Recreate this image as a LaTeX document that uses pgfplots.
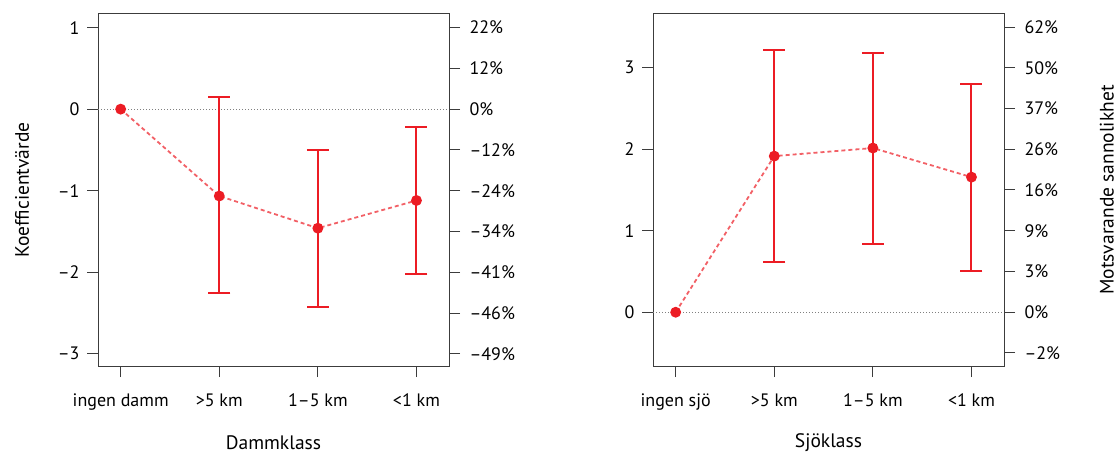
\documentclass[border=0pt]{standalone}
\usepackage{fontspec}
\setmainfont{PT Sans}
\usepackage{pgfplots}
\usepackage{pgfplotstable}
\pgfplotsset{compat=1.18}

\definecolor{ered}{RGB}{236,28,36}
\definecolor{frame}{RGB}{60,60,60}

% category, coefficient, error plus, error minus
\pgfplotstableread{
x y ep em
0 0 0 0
1 -1.065 1.209 1.195
2 -1.46 0.96 0.97
3 -1.12 0.90 0.90
}\dammtab
\pgfplotstableread{
x y ep em
1 -1.065 1.209 1.195
2 -1.46 0.96 0.97
3 -1.12 0.90 0.90
}\dammerr
\pgfplotstableread{
x y ep em
0 0 0 0
1 1.916 1.304 1.298
2 2.015 1.165 1.176
3 1.658 1.142 1.147
}\sjotab
\pgfplotstableread{
x y ep em
1 1.916 1.304 1.298
2 2.015 1.165 1.176
3 1.658 1.142 1.147
}\sjoerr

\pgfplotsset{
  panel/.style={
    scale only axis, width=351pt, height=352pt, anchor=south west,
    xmin=-0.23, xmax=3.33,
    axis line style={frame, line width=1pt},
    tick align=outside, major tick length=11pt,
    tick style={frame, line width=1pt},
    xtick={0,1,2,3}, xtick pos=bottom, ytick pos=left,
    tick label style={font=\fontsize{18pt}{21pt}\selectfont},
    label style={font=\fontsize{19.5pt}{23pt}\selectfont},
    xticklabel style={anchor=base, yshift=-29pt},
    yticklabel style={anchor=east, xshift=-4pt},
    xlabel style={at={(axis description cs:0.5,-0.219)}, anchor=center},
    ylabel style={at={(axis description cs:-0.2165,0.5)}, anchor=center},
    clip=false,
  },
  rpanel/.style={
    scale only axis, width=351pt, height=352pt, anchor=south west,
    xmin=-0.23, xmax=3.33,
    axis x line=none, axis y line*=right,
    axis line style={frame, line width=1pt},
    tick align=outside, major tick length=11pt,
    tick style={frame, line width=1pt},
    tick label style={font=\fontsize{18pt}{21pt}\selectfont},
    label style={font=\fontsize{19.5pt}{23pt}\selectfont},
    yticklabel style={anchor=west, xshift=6pt},
  },
  errstyle/.style={color=ered, draw=ered, line width=2pt, solid,
    only marks, mark=none, forget plot,
    error bars/.cd, y dir=both, y explicit,
    error bar style={draw=ered, solid, line width=2pt},
    error mark options={draw=ered, solid, line width=2pt, mark size=11pt, rotate=90}},
  linestyle/.style={ered!70, line width=1.8pt, dash pattern=on 4pt off 3pt,
    mark=*, mark size=4.5pt, mark options={solid, fill=ered, draw=ered}},
}

\begin{document}
\begin{tikzpicture}
\path[use as bounding box] (0,0) rectangle (1119pt,456pt);

% ---------- left panel ----------
\begin{axis}[panel, at={(98pt,90pt)},
  ymin=-3.15, ymax=1.167,
  ytick={-3,-2,-1,0,1}, yticklabels={–3,–2,–1,0,1},
  xticklabels={ingen damm,>5 km,1–5 km,<1 km},
  xlabel={Dammklass}, ylabel={Koefficientvärde}]
  \addplot[gray, line width=1pt, dotted] coordinates {(-0.23,0) (3.33,0)};
  \addplot[errstyle] table[x=x, y=y, y error plus=ep, y error minus=em] {\dammerr};
  \addplot[linestyle] table[x=x, y=y] {\dammtab};
\end{axis}
\begin{axis}[rpanel, at={(98pt,90pt)},
  ymin=-3.15, ymax=1.167,
  ytick={-3,-2.5,-2,-1.5,-1,-0.5,0,0.5,1},
  yticklabels={–49\%,–46\%,–41\%,–34\%,–24\%,–12\%,0\%,12\%,22\%}]
\end{axis}

% ---------- right panel ----------
\begin{axis}[panel, at={(653pt,90pt)},
  ymin=-0.66, ymax=3.66,
  ytick={0,1,2,3}, yticklabels={0,1,2,3},
  xticklabels={ingen sjö,>5 km,1–5 km,<1 km},
  xlabel={Sjöklass}]
  \addplot[gray, line width=1pt, dotted] coordinates {(-0.23,0) (3.33,0)};
  \addplot[errstyle] table[x=x, y=y, y error plus=ep, y error minus=em] {\sjoerr};
  \addplot[linestyle] table[x=x, y=y] {\sjotab};
\end{axis}
\begin{axis}[rpanel, at={(653pt,90pt)},
  ymin=-0.66, ymax=3.66,
  ytick={-0.5,0,0.5,1,1.5,2,2.5,3,3.5},
  yticklabels={–2\%,0\%,3\%,9\%,16\%,26\%,37\%,50\%,62\%},
  ylabel={Motsvarande sannolikhet},
  ylabel style={at={(axis description cs:1.293,0.5)}, anchor=center, rotate=0}]
\end{axis}
\end{tikzpicture}
\end{document}
